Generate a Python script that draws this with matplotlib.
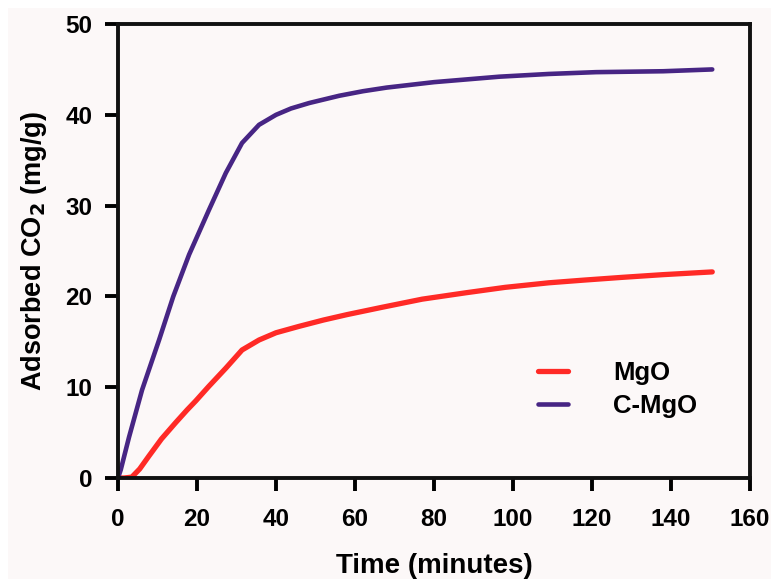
import matplotlib
matplotlib.use('Agg')
import matplotlib.pyplot as plt
from matplotlib.patches import Rectangle

# Data
t_mgo = [0, 1.5, 3.5, 5.5, 7.8, 11, 14.6, 17.5, 19.7, 23, 27.3, 31.4, 35.7, 40, 45.8,
         52, 58, 66.8, 77, 88, 98, 109, 118, 127.6, 138, 150.4]
v_mgo = [0, 0, 0.1, 1.0, 2.4, 4.3, 6.1, 7.5, 8.5, 10.1, 12.1, 14.1, 15.2, 16.0, 16.7,
         17.4, 18.0, 18.8, 19.7, 20.4, 21.0, 21.5, 21.8, 22.1, 22.4, 22.7]

t_cmgo = [0, 0.7, 2.8, 6.1, 10.4, 14, 18, 23, 27.3, 31.4, 35.7, 40, 43.8,
          48.4, 56, 62, 68, 74, 80, 96.5, 109, 121, 138, 150.4]
v_cmgo = [0, 0.9, 4.5, 9.7, 15.2, 20.0, 24.6, 29.5, 33.6, 36.9, 38.9, 40.0, 40.7,
          41.3, 42.1, 42.6, 43.0, 43.3, 43.6, 44.2, 44.5, 44.7, 44.8, 45.0]

labels = ['MgO', 'C-MgO']
colors = ['#ff2a26', '#472584']

plt.rcParams['font.family'] = ['Liberation Sans', 'DejaVu Sans']
plt.rcParams['font.weight'] = 'bold'

bg = '#fcf8f8'
fig = plt.figure(figsize=(7.71, 5.79), dpi=100, facecolor='white')
fig.patches.append(Rectangle((8 / 771, 0), 1, 1 - 8 / 579, transform=fig.transFigure,
                             facecolor=bg, edgecolor='none', zorder=-1))
ax = fig.add_axes([0.153, 0.1744, 0.820, 0.7841])
ax.set_facecolor(bg)

ax.plot(t_mgo, v_mgo, color=colors[0], linewidth=3.8, label=labels[0],
        solid_capstyle='round', solid_joinstyle='round')
ax.plot(t_cmgo, v_cmgo, color=colors[1], linewidth=3.3, label=labels[1],
        solid_capstyle='round', solid_joinstyle='round')

ax.set_xlim(0, 160)
ax.set_ylim(0, 50)
ax.set_xticks(range(0, 161, 20))
ax.set_yticks(range(0, 51, 10))

for s in ax.spines.values():
    s.set_linewidth(2.8)
    s.set_color('#111111')

ax.tick_params(axis='x', direction='out', length=9.5, width=2.8, pad=12, labelsize=17.5)
ax.tick_params(axis='y', direction='out', length=9.5, width=2.8, pad=9, labelsize=17.5)
for lab in ax.get_xticklabels() + ax.get_yticklabels():
    lab.set_fontweight('bold')

ax.set_xlabel('Time (minutes)', fontsize=20, fontweight='bold', labelpad=16)
ax.set_ylabel('Adsorbed CO$_\\mathbf{2}$ (mg/g)', fontsize=19.5, fontweight='bold', labelpad=12)

leg = ax.legend(loc='center left', bbox_to_anchor=(0.665, 0.196), frameon=False,
                fontsize=18.5, handlelength=1.15, handletextpad=1.75, labelspacing=0.35,
                borderpad=0, borderaxespad=0)
for txt in leg.get_texts():
    txt.set_fontweight('bold')

plt.savefig('out.png', dpi=100, facecolor=fig.get_facecolor())
plt.close()
